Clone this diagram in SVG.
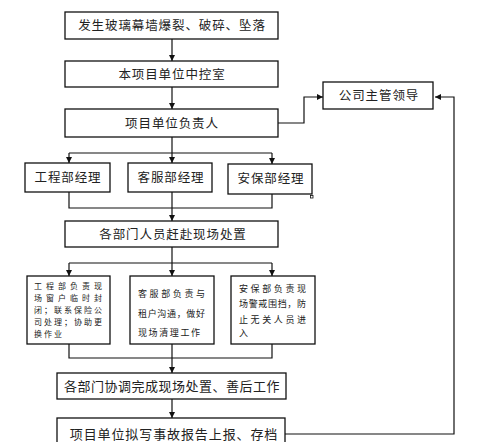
<svg xmlns="http://www.w3.org/2000/svg" width="482" height="442" viewBox="0 0 482 442">
<defs>
<marker id="ah" viewBox="0 0 10 10" refX="10" refY="5" markerWidth="6" markerHeight="6" markerUnits="userSpaceOnUse" orient="auto">
<path d="M0,0 L10,5 L0,10 z" fill="#111"/>
</marker>
<style>
rect.b{fill:#fff;stroke:#111;stroke-width:1.3}
text{font-family:"Noto Sans CJK SC","Liberation Sans",sans-serif;fill:#222}
.t{font-size:12.5px;letter-spacing:0.9px;text-anchor:middle}
.s{font-size:9px}
.s8{font-size:8px}
.c path{fill:none;stroke:#111;stroke-width:1.2}
</style>
</defs>
<rect width="482" height="442" fill="#fff"/>
<g class="c" id="connectors">
<path d="M172,39 V61" marker-end="url(#ah)"/>
<path d="M172,87 V109" marker-end="url(#ah)"/>
<path d="M172,137 V153"/>
<path d="M69,153 H272"/>
<path d="M69,153 V163" marker-end="url(#ah)"/>
<path d="M172,153 V163" marker-end="url(#ah)"/>
<path d="M272,153 V164" marker-end="url(#ah)"/>
<path d="M69,192 V208 H272 V194"/>
<path d="M172,192 V221" marker-end="url(#ah)"/>
<path d="M172,247 V263"/>
<path d="M69,263 H272"/>
<path d="M69,263 V276" marker-end="url(#ah)"/>
<path d="M172,263 V276" marker-end="url(#ah)"/>
<path d="M272,263 V276" marker-end="url(#ah)"/>
<path d="M69,344 V358 H272 V344"/>
<path d="M172,344 V373" marker-end="url(#ah)"/>
<path d="M172,399 V418" marker-end="url(#ah)"/>
<path d="M278,123 H304 V97 H323" marker-end="url(#ah)"/>
<path d="M285,434 H454 V97 H435" marker-end="url(#ah)"/>
</g>
<g id="n1"><rect class="b" x="65" y="12" width="213" height="27"/><text class="t" x="172" y="30">发生玻璃幕墙爆裂、破碎、坠落</text></g>
<g id="n2"><rect class="b" x="65" y="61" width="213" height="26"/><text class="t" x="172" y="79">本项目单位中控室</text></g>
<g id="n3"><rect class="b" x="65" y="109" width="213" height="28"/><text class="t" x="172" y="128">项目单位负责人</text></g>
<g id="n4"><rect class="b" x="323" y="82" width="110" height="27"/><text class="t" x="379" y="100">公司主管领导</text></g>
<g id="n5"><rect class="b" x="25" y="163" width="85" height="29"/><text class="t" x="68" y="182">工程部经理</text></g>
<g id="n6"><rect class="b" x="128" y="163" width="84" height="29"/><text class="t" x="171" y="182">客服部经理</text></g>
<g id="n7"><rect class="b" x="228" y="164" width="84" height="30"/><text class="t" x="271" y="183">安保部经理</text><rect x="310.5" y="195.5" width="2.5" height="2.5" fill="#fff" stroke="#111" stroke-width="0.8"/></g>
<g id="n8"><rect class="b" x="65" y="221" width="213" height="26"/><text class="t" x="173" y="239">各部门人员赶赴现场处置</text></g>
<g id="n9"><rect class="b" x="27" y="276" width="83" height="68"/>
<text class="s8" x="34" y="288.5" textLength="68" lengthAdjust="spacing">工程部负责现</text>
<text class="s8" x="34" y="300.5" textLength="68" lengthAdjust="spacing">场窗户临时封</text>
<text class="s8" x="34" y="312.5" textLength="68" lengthAdjust="spacing">闭；联系保险公</text>
<text class="s8" x="34" y="324.5" textLength="68" lengthAdjust="spacing">司处理；协助更</text>
<text class="s8" x="34" y="336.5" textLength="28" lengthAdjust="spacing">换作业</text></g>
<g id="n10"><rect class="b" x="130" y="276" width="84" height="68"/>
<text class="s" x="138" y="296.5" textLength="67" lengthAdjust="spacing">客服部负责与</text>
<text class="s" x="138" y="316.5" textLength="67" lengthAdjust="spacing">租户沟通，做好</text>
<text class="s" x="138" y="335.5" textLength="62" lengthAdjust="spacing">现场清理工作</text></g>
<g id="n11"><rect class="b" x="231" y="276" width="84" height="68"/>
<text class="s" x="239" y="291.5" textLength="67" lengthAdjust="spacing">安保部负责现</text>
<text class="s" x="239" y="306.5" textLength="67" lengthAdjust="spacing">场警戒围挡，防</text>
<text class="s" x="239" y="322.5" textLength="67" lengthAdjust="spacing">止无关人员进</text>
<text class="s" x="239" y="335.5">入</text></g>
<g id="n12"><rect class="b" x="57" y="373" width="229" height="26"/><text class="t" style="font-size:13px;letter-spacing:0.5px" x="172" y="391">各部门协调完成现场处置、善后工作</text></g>
<g id="n13"><rect class="b" x="57" y="418" width="228" height="30"/><text class="t" style="font-size:13px;letter-spacing:0.9px" x="174" y="439">项目单位拟写事故报告上报、存档</text></g>
</svg>
